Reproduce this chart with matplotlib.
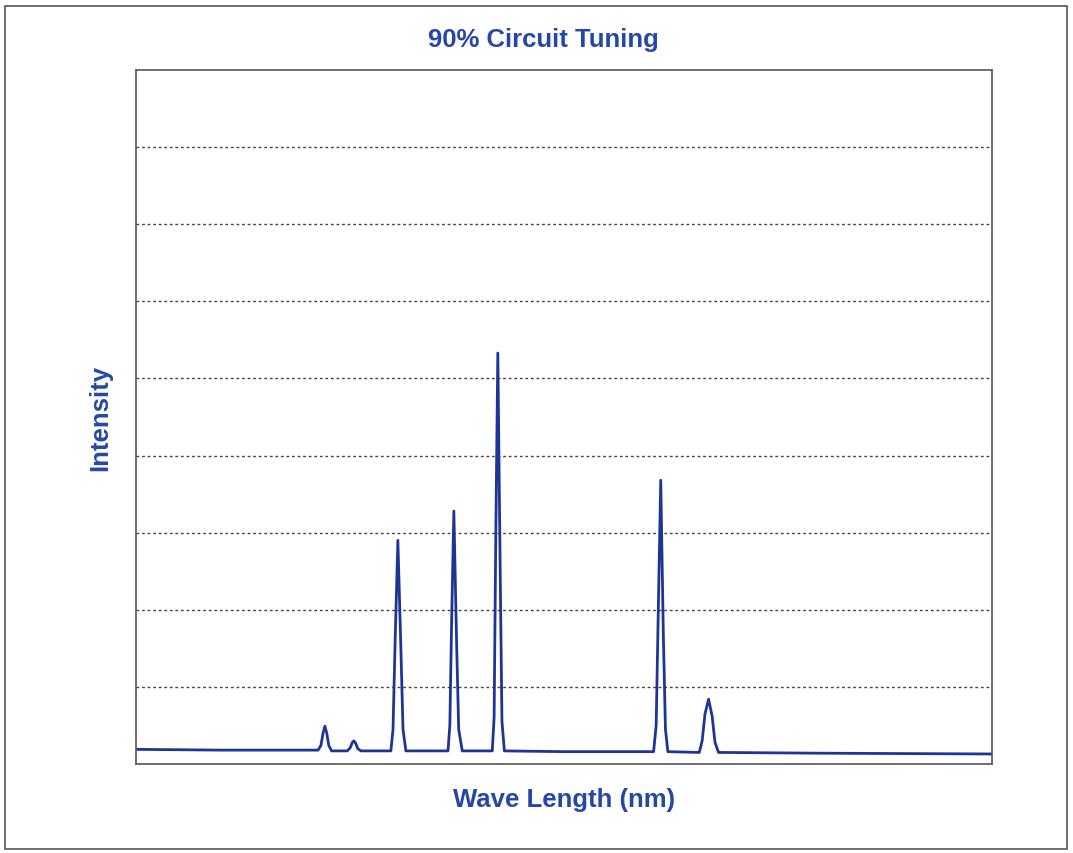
import matplotlib.pyplot as plt
from matplotlib.patches import Rectangle

plt.rcParams['font.family'] = ['Liberation Sans', 'DejaVu Sans']

# spectrum points (wavelength nm, intensity)
wavelength = [300, 360, 427.5, 429.5, 431.0, 432.3, 433.6, 435.0, 437.0,
              448.0, 450.0, 451.5, 452.6, 453.8, 455.3, 457.5,
              478.5, 480.0, 481.5, 483.4, 485.5, 487.0, 489.0,
              518.5, 519.8, 521.0, 522.6, 524.5, 526.0, 528.5,
              549.5, 550.8, 552.0, 553.4, 555.0, 556.3, 558.0,
              600, 662.5, 664.3, 665.8, 667.5, 669.3, 670.8, 672.5,
              694.5, 696.5, 698.5, 701.0, 703.5, 705.5, 708.0,
              780, 899.5]
intensity = [0.19, 0.18, 0.18, 0.24, 0.40, 0.49, 0.40, 0.24, 0.17,
             0.17, 0.21, 0.28, 0.30, 0.27, 0.20, 0.17,
             0.17, 0.45, 1.6, 2.9, 1.5, 0.45, 0.17,
             0.17, 0.50, 1.8, 3.28, 1.6, 0.45, 0.17,
             0.17, 0.60, 3.0, 5.33, 2.6, 0.55, 0.17,
             0.16, 0.16, 0.50, 2.0, 3.68, 1.7, 0.45, 0.16,
             0.15, 0.30, 0.65, 0.84, 0.62, 0.28, 0.15,
             0.14, 0.13]

title = '90% Circuit Tuning'
x_label = 'Wave Length (nm)'
y_label = 'Intensity'

blue_text = '#2547a8'
line_blue = '#1f3596'

fig = plt.figure(figsize=(10.73, 8.54), dpi=100)
ax = fig.add_axes([136 / 1073, 89 / 854, 856 / 1073, 694 / 854])

ax.plot(wavelength, intensity, color=line_blue, linewidth=2.0,
        solid_joinstyle='round')

ax.set_xlim(300, 899.5)
ax.set_ylim(0, 9)
ax.set_yticks(range(1, 9))
ax.set_xticks([])
ax.tick_params(axis='y', length=0, labelleft=False)
ax.yaxis.grid(True, linestyle=(0, (2, 2)), color='#444444', linewidth=1.0)

for s in ax.spines.values():
    s.set_color('#555555')
    s.set_linewidth(1.2)

fig.text(543 / 1073, 1 - 40 / 854, title, ha='center', va='center',
         fontsize=18.5, fontweight='bold', color=blue_text)
fig.text(564 / 1073, 1 - 800 / 854, x_label, ha='center', va='center',
         fontsize=18.5, fontweight='bold', color=blue_text)
fig.text(100 / 1073, 1 - 418 / 854, y_label, ha='center', va='center',
         fontsize=18.5, fontweight='bold', color=blue_text, rotation=90)

# outer page border
fig.patches.append(Rectangle((5 / 1073, 4 / 854), 1062 / 1073, 843 / 854,
                             transform=fig.transFigure, fill=False,
                             edgecolor='#555555', linewidth=1.2))

fig.savefig('out.png', dpi=100)
